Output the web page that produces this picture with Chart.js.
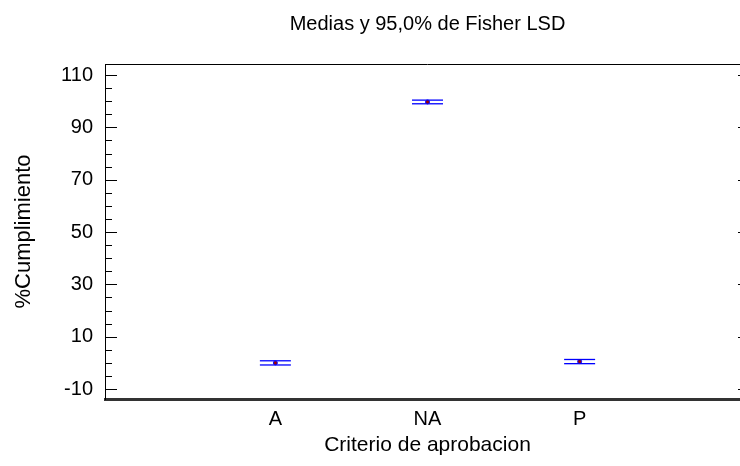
<!DOCTYPE html>
<html><head><meta charset="utf-8">
<script src="https://cdn.jsdelivr.net/npm/chart.js@4/dist/chart.umd.min.js"></script>
<style>
html,body{margin:0;padding:0;background:#fff;overflow:hidden;}
#wrap{width:740px;height:466px;position:relative;background:#fff;overflow:hidden;}
canvas{display:block;}
</style></head><body>
<div id="wrap"><canvas id="c" width="760" height="466" style="width:760px;height:466px"></canvas></div>
<script>
const categories = ['A', 'NA', 'P'];
const means = [0.0, 99.7, 0.5];
const lower = [-0.8, 99.0, -0.3];
const upper = [0.8, 100.4, 1.3];
const yMajorTicks = [-10, 10, 30, 50, 70, 90, 110];
const yMinorTicks = [-5, 0, 5, 15, 20, 25, 35, 40, 45, 55, 60, 65, 75, 80, 85, 95, 100, 105];
const titleText = 'Medias y 95,0% de Fisher LSD';
const xTitle = 'Criterio de aprobacion';
const yTitle = '%Cumplimiento';

const FONT = "'Liberation Sans', Arial, sans-serif";
Chart.defaults.font.family = FONT;
Chart.defaults.color = '#000';

const deco = {
  id: 'deco',
  beforeDatasetsDraw(chart) {
    const ctx = chart.ctx, xs = chart.scales.x, ys = chart.scales.y;
    ctx.save();
    ctx.strokeStyle = '#0000ff';
    ctx.lineWidth = 1.3;
    categories.forEach((c, i) => {
      const cx = xs.getPixelForValue(i + 1);
      [upper[i], lower[i]].forEach(v => {
        const py = ys.getPixelForValue(v);
        ctx.beginPath();
        ctx.moveTo(cx - 15.5, py);
        ctx.lineTo(cx + 15.5, py);
        ctx.stroke();
      });
    });
    ctx.restore();
  },
  afterDraw(chart) {
    const ctx = chart.ctx, ys = chart.scales.y;
    const a = chart.chartArea;
    ctx.save();
    ctx.strokeStyle = '#000';
    ctx.lineWidth = 1;
    ctx.beginPath();
    ctx.moveTo(a.left, Math.round(a.top) + 0.5);
    ctx.lineTo(a.right, Math.round(a.top) + 0.5);
    ctx.moveTo(Math.round(a.right) - 0.5, a.top);
    ctx.lineTo(Math.round(a.right) - 0.5, a.bottom);
    const tick = (v, len) => {
      const py = Math.round(ys.getPixelForValue(v)) + 0.5;
      ctx.moveTo(a.left, py); ctx.lineTo(a.left + len, py);
      ctx.moveTo(a.right, py); ctx.lineTo(a.right - len, py);
    };
    yMajorTicks.forEach(v => tick(v, 12));
    yMinorTicks.forEach(v => tick(v, 7));
    ctx.stroke();
    ctx.fillStyle = '#000';
    ctx.font = '20px ' + FONT;
    ctx.textAlign = 'center';
    ctx.textBaseline = 'middle';
    ctx.fillText(titleText, (a.left + a.right) / 2, 24);
    ctx.restore();
  }
};

new Chart(document.getElementById('c'), {
  type: 'scatter',
  data: {
    datasets: [{
      data: categories.map((c, i) => ({ x: i + 1, y: means[i] })),
      pointRadius: 2,
      pointBackgroundColor: '#a00000',
      pointBorderColor: '#0000ff',
      pointBorderWidth: 1,
      showLine: false
    }]
  },
  options: {
    responsive: false,
    maintainAspectRatio: false,
    animation: false,
    devicePixelRatio: 1,
    layout: { autoPadding: false, padding: { top: 64, right: 10, left: 0, bottom: 0 } },
    plugins: { legend: { display: false }, tooltip: { enabled: false }, title: { display: false } },
    scales: {
      x: {
        type: 'linear', min: -0.12, max: 4.12,
        afterBuildTicks: s => { s.ticks = categories.map((c, i) => ({ value: i + 1 })); },
        afterFit: s => { s.height = 67; s.paddingLeft = 0; s.paddingRight = 0; },
        ticks: { autoSkip: false, maxRotation: 0, padding: 8, font: { size: 20 },
          callback: v => categories[Math.round(v) - 1] ?? '' },
        grid: { display: false, drawTicks: false, tickLength: 0 },
        border: { display: true, color: '#333', width: 3 },
        title: { display: true, text: xTitle, font: { size: 21 }, padding: { top: 0, bottom: 8 } }
      },
      y: {
        min: -13.8, max: 114.2,
        afterBuildTicks: s => { s.ticks = yMajorTicks.map(v => ({ value: v })); },
        afterFit: s => { s.width = 105; s.paddingTop = 0; s.paddingBottom = 0; },
        ticks: { padding: 12, font: { size: 20 } },
        grid: { display: false, drawTicks: false, tickLength: 0 },
        border: { display: true, color: '#000', width: 1 },
        title: { display: true, text: yTitle, font: { size: 22 }, padding: { top: 11, bottom: 0 } }
      }
    }
  },
  plugins: [deco]
});
</script>
</body></html>
